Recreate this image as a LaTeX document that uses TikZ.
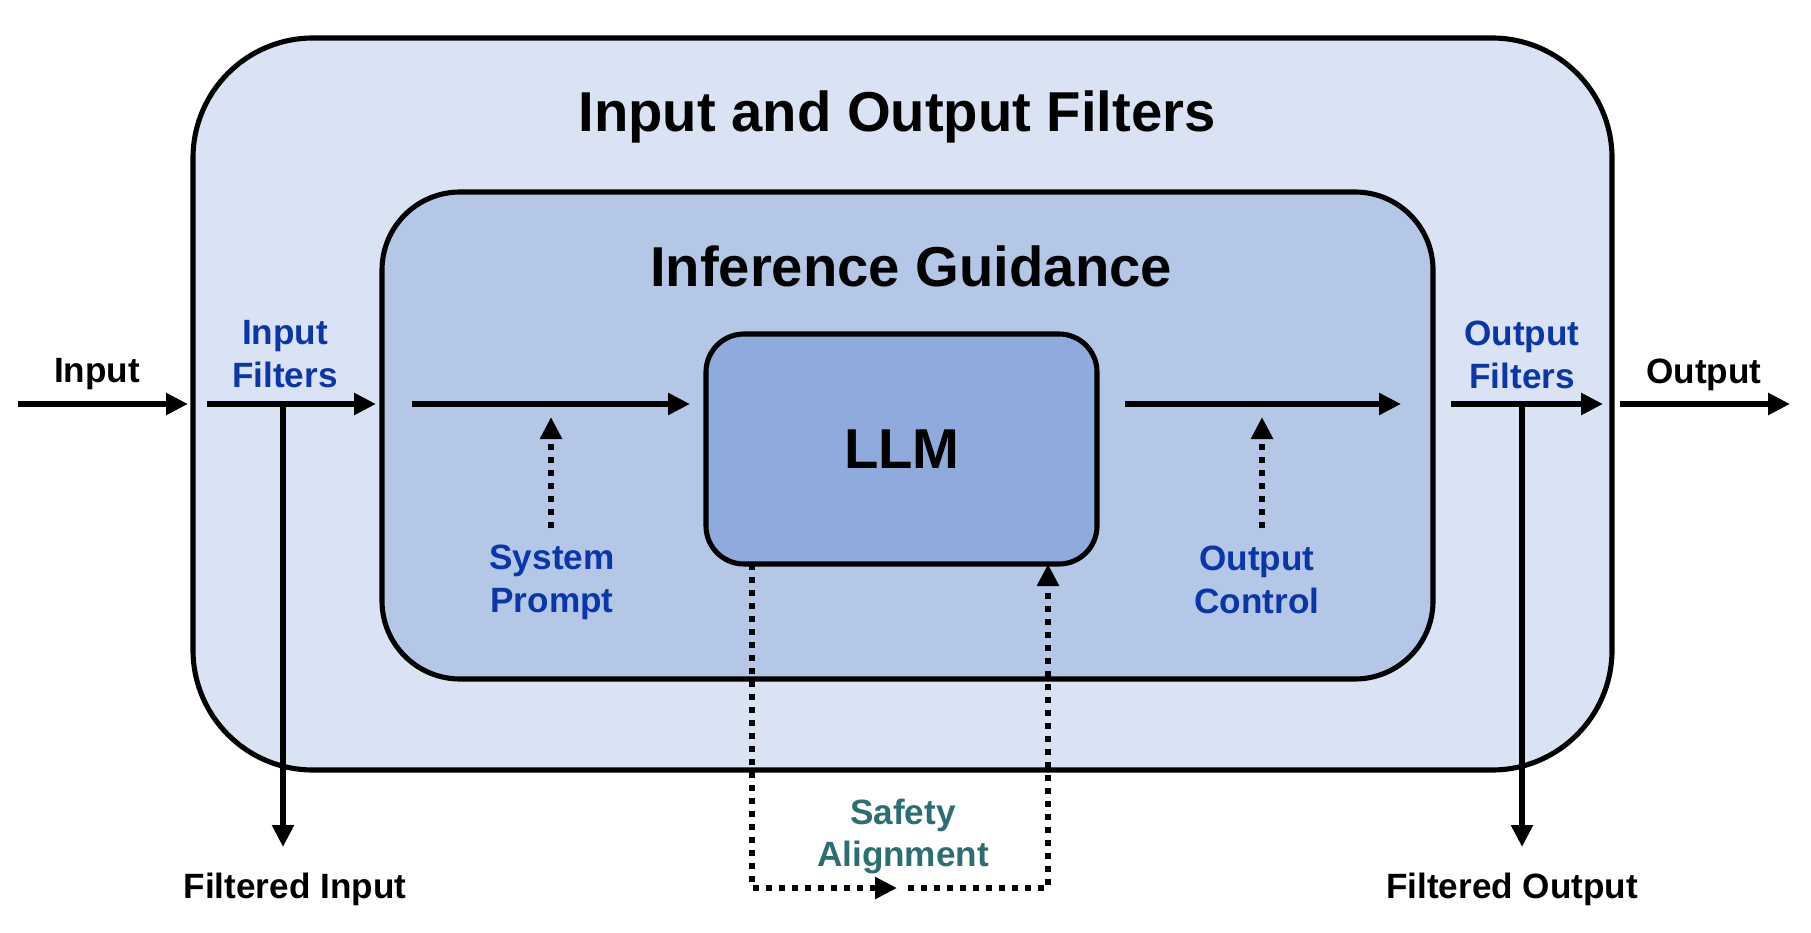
\documentclass[tikz,border=0pt]{standalone}
\usepackage{fontspec}
\setmainfont{Liberation Sans}
\usetikzlibrary{arrows.meta}
\definecolor{outerfill}{HTML}{DAE3F3}
\definecolor{innerfill}{HTML}{B4C7E7}
\definecolor{llmfill}{HTML}{8FAADC}
\definecolor{labblue}{HTML}{0A36A8}
\definecolor{labteal}{HTML}{2B6F73}
\tikzset{>={Triangle[length=0.22cm,width=0.21cm]}}

\begin{document}
\begin{tikzpicture}[
    box/.style={draw, line width=1.45pt, inner sep=0pt},
    lbl/.style={font=\fontsize{10}{12.2}\selectfont\bfseries, align=center, inner sep=0pt},
    big/.style={font=\fontsize{16}{19}\selectfont\bfseries, inner sep=0pt},
    flow/.style={->, line width=1.85pt},
    hint/.style={line width=1.75pt, dash pattern=on 1.7pt off 2pt}]
    \useasboundingbox (0,0) rectangle (18.11,9.32);
    % nested boxes
    \node[box, fill=outerfill, minimum width=14.19cm, minimum height=7.32cm, rounded corners=1.2cm] (filters) at (9.025,5.28) {};
    \node[box, fill=innerfill, minimum width=10.51cm, minimum height=4.87cm, rounded corners=0.78cm] (guide) at (9.075,4.965) {};
    \node[box, fill=llmfill, minimum width=3.91cm, minimum height=2.30cm, rounded corners=0.38cm] (llm) at (9.015,4.83) {};
    \node[big] (llmtxt) at (9.02,4.83) {LLM};
    \node[big] (filtitle) at (8.97,8.15) {Input and Output Filters};
    \node[big] (guidetitle) at (9.11,6.66) {Inference Guidance};
    % labels
    \node[lbl] (inp) at (0.97,5.575) {Input};
    \node[lbl, text=labblue] (inflt) at (2.85,5.775) {Input\\Filters};
    \node[lbl] (outp) at (17.04,5.575) {Output};
    \node[lbl, text=labblue] (outflt) at (15.22,5.775) {Output\\Filters};
    \node[lbl, text=labblue] (sysp) at (5.52,3.50) {System\\Prompt};
    \node[lbl, text=labblue] (outctl) at (12.57,3.52) {Output\\Control};
    \node[lbl, text=labteal] (safety) at (9.03,0.955) {Safety\\Alignment};
    \node[lbl] (finp) at (2.95,0.43) {Filtered Input};
    \node[lbl] (foutp) at (15.12,0.43) {Filtered Output};
    % main flow
    \coordinate (A0) at (0.18,5.28);
    \coordinate (A1) at (1.88,5.28);
    \coordinate (B0) at (2.07,5.28);
    \coordinate (B1) at (3.76,5.28);
    \coordinate (C0) at (4.12,5.28);
    \coordinate (C1) at (6.90,5.28);
    \coordinate (D0) at (11.25,5.28);
    \coordinate (D1) at (14.01,5.28);
    \coordinate (E0) at (14.51,5.28);
    \coordinate (E1) at (16.03,5.28);
    \coordinate (F0) at (16.20,5.28);
    \coordinate (F1) at (17.90,5.28);
    \draw[flow] (A0) -- (A1);
    \draw[flow] (B0) -- (B1);
    \draw[flow] (C0) -- (C1);
    \draw[flow] (D0) -- (D1);
    \draw[flow] (E0) -- (E1);
    \draw[flow] (F0) -- (F1);
    \coordinate (G0) at (2.83,5.28);
    \coordinate (G1) at (2.83,0.85);
    \coordinate (H0) at (15.22,5.28);
    \coordinate (H1) at (15.22,0.85);
    \draw[flow] (G0) -- (G1);
    \draw[flow] (H0) -- (H1);
    % dotted hints
    \coordinate (S0) at (5.51,4.04);
    \coordinate (S1) at (5.51,5.15);
    \coordinate (T0) at (12.62,4.04);
    \coordinate (T1) at (12.62,5.15);
    \draw[hint, ->] (S0) -- (S1);
    \draw[hint, ->] (T0) -- (T1);
    \coordinate (P0) at (7.52,3.68);
    \coordinate (P1) at (7.52,0.44);
    \coordinate (P2) at (8.97,0.44);
    \coordinate (Q0) at (9.08,0.44);
    \coordinate (Q1) at (10.48,0.44);
    \coordinate (Q2) at (10.48,3.68);
    \draw[hint, ->] (P0) -- (P1) -- (P2);
    \draw[hint, ->] (Q0) -- (Q1) -- (Q2);
\end{tikzpicture}
\end{document}
